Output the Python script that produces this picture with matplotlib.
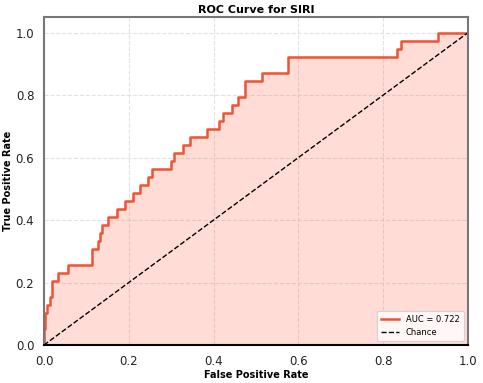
import matplotlib
matplotlib.use("Agg")
import matplotlib.pyplot as plt

# ROC curve corner points
fpr = [0.0, 0.0, 0.0024, 0.0024, 0.0078, 0.0078, 0.0142, 0.0142, 0.0189, 0.0189,
       0.033, 0.033, 0.0566, 0.0566, 0.1139, 0.1139, 0.128, 0.128, 0.132, 0.132,
       0.1375, 0.1375, 0.1517, 0.1517, 0.1715, 0.1715, 0.191, 0.191, 0.2106, 0.2106,
       0.2264, 0.2264, 0.246, 0.246, 0.254, 0.254, 0.2988, 0.2988, 0.3066, 0.3066,
       0.3285, 0.3285, 0.3443, 0.3443, 0.385, 0.385, 0.4134, 0.4134, 0.4215, 0.4215,
       0.444, 0.444, 0.458, 0.458, 0.473, 0.473, 0.513, 0.513, 0.576, 0.576,
       0.832, 0.832, 0.841, 0.841, 0.930, 0.930, 1.0]
tpr = [0.0, 0.051, 0.051, 0.103, 0.103, 0.128, 0.128, 0.154, 0.154, 0.205,
       0.205, 0.231, 0.231, 0.256, 0.256, 0.308, 0.308, 0.333, 0.333, 0.359,
       0.359, 0.385, 0.385, 0.410, 0.410, 0.436, 0.436, 0.462, 0.462, 0.487,
       0.487, 0.513, 0.513, 0.538, 0.538, 0.564, 0.564, 0.590, 0.590, 0.615,
       0.615, 0.641, 0.641, 0.667, 0.667, 0.692, 0.692, 0.718, 0.718, 0.744,
       0.744, 0.769, 0.769, 0.795, 0.795, 0.846, 0.846, 0.872, 0.872, 0.923,
       0.923, 0.949, 0.949, 0.974, 0.974, 1.0, 1.0]
auc_value = 0.722
chance = [0.0, 1.0]
ticks = [0.0, 0.2, 0.4, 0.6, 0.8, 1.0]

line_color = "#EC5434"
fill_color = "#FF6347"

fig = plt.figure(figsize=(4.83, 3.83), dpi=100)
ax = fig.add_axes([44/483, 38/383, 424/483, 328/383])

ax.fill_between(fpr, tpr, 0, color=fill_color, alpha=0.22, linewidth=0)
ax.plot(fpr, tpr, color=line_color, lw=1.8, label=f"AUC = {auc_value:.3f}")
ax.plot(chance, chance, color="black", lw=1.0, linestyle="--", label="Chance")

ax.set_xlim(0, 1)
ax.set_ylim(0, 1.05)
ax.set_xticks(ticks)
ax.set_yticks(ticks)
ax.set_xticklabels([f"{t:.1f}" for t in ticks])
ax.set_yticklabels([f"{t:.1f}" for t in ticks])
ax.tick_params(length=0, pad=7, labelsize=8.5, colors="#222222")
ax.grid(True, linestyle="--", color="#e2e2e2", linewidth=0.8)
ax.set_axisbelow(True)

for side in ["top", "right", "left"]:
    ax.spines[side].set_color("#777777")
    ax.spines[side].set_linewidth(1.5)
ax.spines["bottom"].set_color("black")
ax.spines["bottom"].set_linewidth(1.5)

ax.set_xlabel("False Positive Rate", fontsize=7, fontweight="bold", labelpad=2)
ax.set_ylabel("True Positive Rate", fontsize=7, fontweight="bold", labelpad=2)
ax.set_title("ROC Curve for SIRI", fontsize=8, fontweight="bold", pad=3)

leg = ax.legend(loc="lower right", fontsize=6, frameon=True, handlelength=2.2,
                borderpad=0.5, labelspacing=0.4)
leg.get_frame().set_edgecolor("#cccccc")
leg.get_frame().set_linewidth(0.8)

fig.savefig("out.png", dpi=100)
